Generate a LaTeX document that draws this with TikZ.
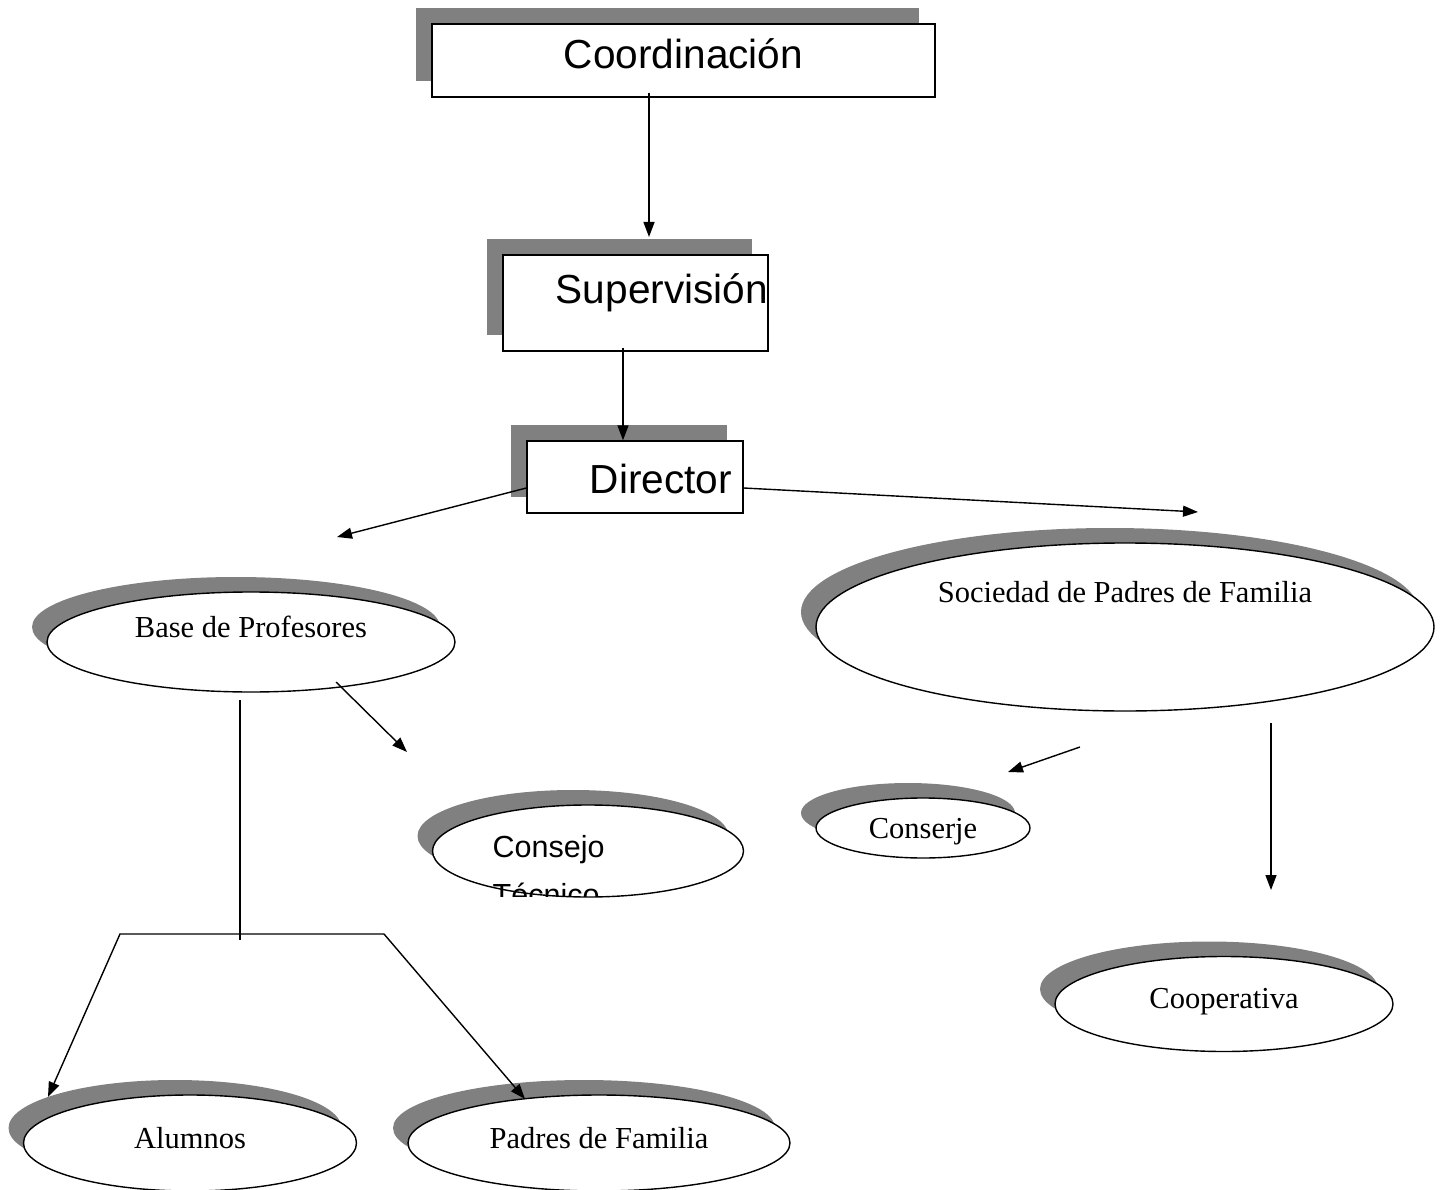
\documentclass[tikz,border=0pt]{standalone}
\usepackage{fontspec}
\setmainfont{Liberation Serif}
\newfontfamily\arialfont{Liberation Sans}
\usetikzlibrary{shapes.geometric,shadows,arrows.meta}

\tikzset{
	>={Triangle[length=15pt,width=11pt]},
	sombra/.style={drop shadow={shadow xshift=-#1,shadow yshift=#1,fill=black!50,opacity=1}},
	caja/.style={draw,fill=white,rectangle,inner sep=0pt,sombra=16pt,font=\arialfont\fontsize{40.6pt}{48pt}\selectfont},
	elipse/.style={draw,fill=white,ellipse,inner sep=0pt,sombra=15pt,text height=21pt,font=\fontsize{30.5pt}{36pt}\selectfont}
}

\begin{document}
\begin{tikzpicture}[x=1pt,y=-1pt,line width=1.4pt]
		\useasboundingbox (0,0) rectangle (1441,1190);
		% cajas
		\node[caja,minimum width=503pt,minimum height=73pt,text height=45pt,text depth=28pt] (coord) at (683.5,60.5) {Coordinación};
		\node[caja,minimum width=265pt,minimum height=96pt,text width=265pt,align=right,text height=49pt,text depth=47pt] (superv) at (635.5,303) {Supervisión};
		\node[caja,minimum width=216pt,minimum height=72pt,inner xsep=11pt,text width=194pt,align=right,text height=52pt,text depth=20pt] (director) at (635,477) {Director};
		% elipses
		\node[elipse,minimum width=408pt,minimum height=100pt,text depth=31pt] (base) at (251,642) {Base de Profesores};
		\node[elipse,minimum width=618pt,minimum height=168pt,text depth=71pt] (sociedad) at (1125,627) {Sociedad de Padres de Familia};
		\node[elipse,minimum width=311pt,minimum height=92pt] (consejo) at (588,851) {};
		\node[elipse,minimum width=214pt,minimum height=60pt,text depth=1pt] (conserje) at (923,828) {Conserje};
		\node[elipse,minimum width=338pt,minimum height=95pt,text depth=13pt] (coop) at (1224,1004) {Cooperativa};
		\node[elipse,minimum width=333pt,minimum height=96pt,text depth=11pt] (alumnos) at (190,1143) {Alumnos};
		\node[elipse,minimum width=382pt,minimum height=96pt,text depth=11pt] (padres) at (599,1143) {Padres de Familia};
		\begin{scope}
			\clip (0,0) rectangle (1441,896);
			\node[anchor=base west,align=left,inner sep=0pt,font=\arialfont\fontsize{30.5pt}{48pt}\selectfont] (consejotxt) at (492,905) {Consejo\\Técnico};
		\end{scope}
		% puntos sueltos
		\coordinate (llegaSup) at (649,237);
		\coordinate (llegaIzq) at (337,537);
		\coordinate (llegaDer) at (1198,512);
		\coordinate (salBase) at (336,682);
		\coordinate (llegaConsejo) at (407,752);
		\coordinate (troncoA) at (240,700);
		\coordinate (troncoB) at (240,940);
		\coordinate (ramaIzq) at (120,934);
		\coordinate (ramaDer) at (384,934);
		\coordinate (llegaAlumnos) at (48,1097);
		\coordinate (llegaPadres) at (525,1099);
		\coordinate (salSoc) at (1080,747);
		\coordinate (llegaConserje) at (1008,772);
		\coordinate (salSoc2) at (1271,723);
		\coordinate (llegaCoop) at (1271,890);
		% flechas
		\draw[->] ([xshift=-34.5pt,yshift=5pt]coord.south) -- (llegaSup);
		\draw[->] ([xshift=-12.5pt,yshift=4pt]superv.south) -- ([xshift=-12pt]director.north);
		\draw[->] ([yshift=-11pt]director.west) -- (llegaIzq);
		\draw[->] ([yshift=-11pt]director.east) -- (llegaDer);
		\draw[->] (salBase) -- (llegaConsejo);
		\draw (troncoA) -- (troncoB);
		\draw[<->] (llegaAlumnos) -- (ramaIzq) -- (ramaDer) -- (llegaPadres);
		\draw[->] (salSoc) -- (llegaConserje);
		\draw[->] (salSoc2) -- (llegaCoop);
\end{tikzpicture}
\end{document}
